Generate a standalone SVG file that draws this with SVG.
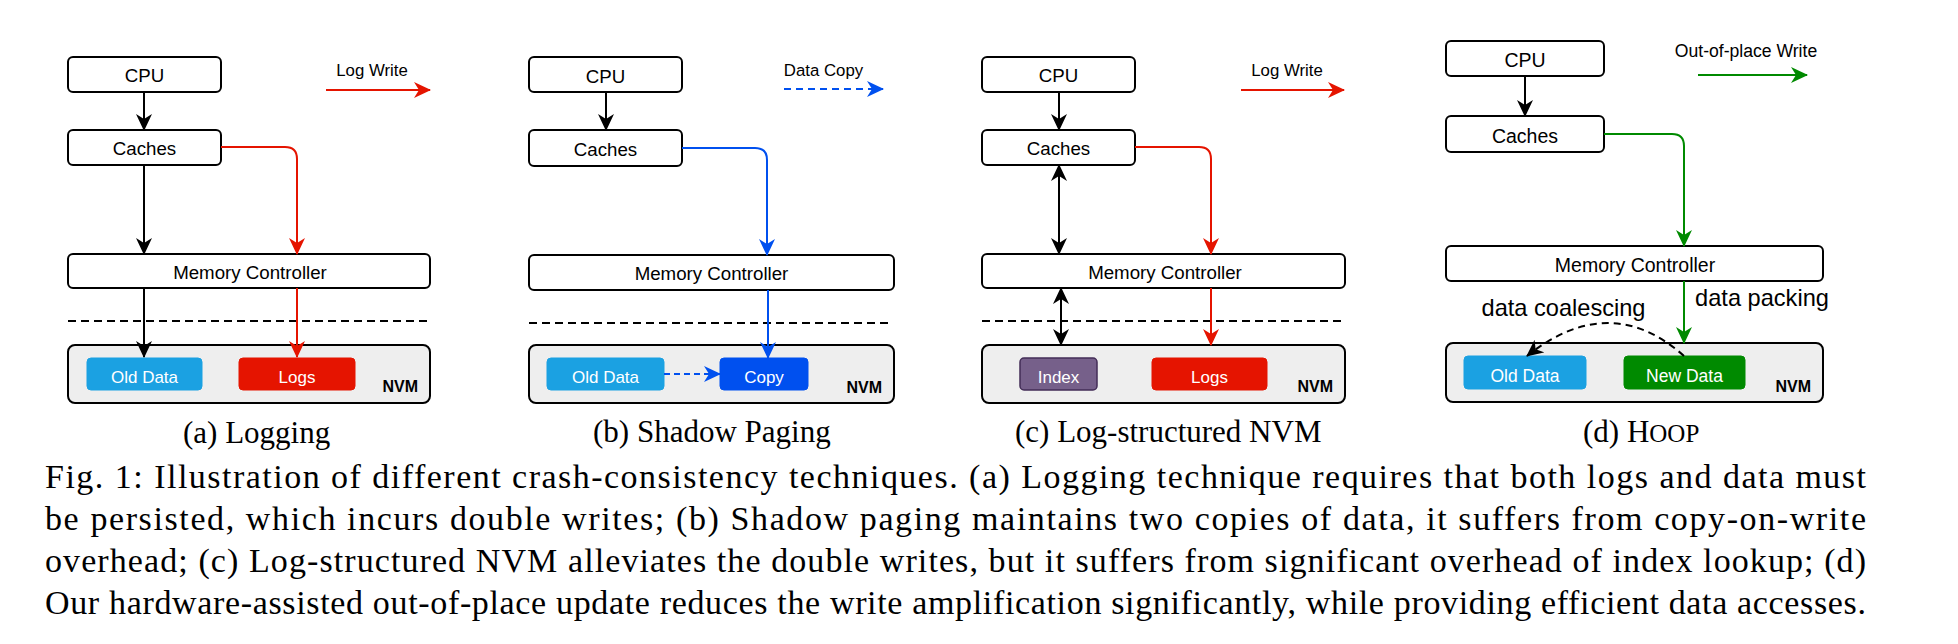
<svg xmlns="http://www.w3.org/2000/svg" width="1958" height="644" viewBox="0 0 1958 644">
<style>
.box{fill:#ffffff;stroke:#000;stroke-width:2}
.nvm{fill:#eeeeee;stroke:#000;stroke-width:2}
.t{font-family:"Liberation Sans",Arial,sans-serif;font-size:18.7px;fill:#000;text-anchor:middle}
.tw{font-family:"Liberation Sans",Arial,sans-serif;font-size:17px;fill:#fff;text-anchor:middle}
.nv{font-family:"Liberation Sans",Arial,sans-serif;font-size:16px;font-weight:bold;fill:#000;text-anchor:end}
.lg{font-family:"Liberation Sans",Arial,sans-serif;font-size:16.8px;fill:#000;text-anchor:middle}
.sub{font-family:"Liberation Serif","Times New Roman",serif;font-size:31px;fill:#000}
.cap{font-family:"Liberation Serif","Times New Roman",serif;font-size:34px;fill:#000}
.k{fill:none;stroke:#000;stroke-width:2}
.r{fill:none;stroke:#e51400;stroke-width:2}
.b{fill:none;stroke:#0050ef;stroke-width:2}
.g{fill:none;stroke:#008a00;stroke-width:2}
.sep{fill:none;stroke:#000;stroke-width:2;stroke-dasharray:8 5}
</style>
<defs>
<marker id="ak" viewBox="0 0 17 16" refX="16" refY="8" markerWidth="17" markerHeight="16" markerUnits="userSpaceOnUse" orient="auto-start-reverse"><path d="M0,0 L17,8 L0,16 L5,8 z" fill="#000"/></marker>
<marker id="ar" viewBox="0 0 17 16" refX="16" refY="8" markerWidth="17" markerHeight="16" markerUnits="userSpaceOnUse" orient="auto"><path d="M0,0 L17,8 L0,16 L5,8 z" fill="#e51400"/></marker>
<marker id="ab" viewBox="0 0 17 16" refX="16" refY="8" markerWidth="17" markerHeight="16" markerUnits="userSpaceOnUse" orient="auto"><path d="M0,0 L17,8 L0,16 L5,8 z" fill="#0050ef"/></marker>
<marker id="ag" viewBox="0 0 17 16" refX="16" refY="8" markerWidth="17" markerHeight="16" markerUnits="userSpaceOnUse" orient="auto"><path d="M0,0 L17,8 L0,16 L5,8 z" fill="#008a00"/></marker>
</defs>

<!-- Panel (a) -->
<g id="a-cpu"><rect class="box" x="68" y="57" width="153" height="35" rx="5"/><text class="t" x="144.5" y="82">CPU</text></g>
<g id="a-caches"><rect class="box" x="68" y="130" width="153" height="35" rx="5"/><text class="t" x="144.5" y="155">Caches</text></g>
<g id="a-mc"><rect class="box" x="68" y="254" width="362" height="34" rx="5"/><text class="t" x="250" y="278.5">Memory Controller</text></g>
<g id="a-nvm"><rect class="nvm" x="68" y="345" width="362" height="58" rx="7"/><text class="nv" x="418" y="392">NVM</text></g>
<g id="a-old"><rect x="87" y="358" width="115" height="32" rx="4" fill="#1ba1e2" stroke="#1ba1e2"/><text class="tw" x="144.5" y="383">Old Data</text></g>
<g id="a-logs"><rect x="239" y="358" width="116" height="32" rx="4" fill="#e51400" stroke="#e51400"/><text class="tw" x="297" y="383">Logs</text></g>
<g id="a-legend"><text class="lg" x="372" y="76">Log Write</text><line class="r" x1="326" y1="90" x2="430" y2="90" marker-end="url(#ar)"/></g>
<g id="a-sep"><line class="sep" x1="68" y1="321" x2="430" y2="321"/></g>
<g id="a-connectors">
<line class="k" x1="144" y1="92" x2="144" y2="130" marker-end="url(#ak)"/>
<line class="k" x1="144" y1="165" x2="144" y2="254" marker-end="url(#ak)"/>
<path class="r" d="M221,147 H285 Q297,147 297,159 V254" marker-end="url(#ar)"/>
<line class="k" x1="144" y1="288" x2="144" y2="357" marker-end="url(#ak)"/>
<line class="r" x1="297" y1="288" x2="297" y2="357" marker-end="url(#ar)"/>
</g>

<!-- Panel (b) -->
<g id="b-cpu"><rect class="box" x="529" y="57" width="153" height="35" rx="5"/><text class="t" x="605.5" y="82.5">CPU</text></g>
<g id="b-caches"><rect class="box" x="529" y="130" width="153" height="36" rx="5"/><text class="t" x="605.5" y="155.5">Caches</text></g>
<g id="b-mc"><rect class="box" x="529" y="255" width="365" height="35" rx="5"/><text class="t" x="711.5" y="280">Memory Controller</text></g>
<g id="b-nvm"><rect class="nvm" x="529" y="345" width="365" height="58" rx="7"/><text class="nv" x="882" y="393">NVM</text></g>
<g id="b-old"><rect x="547" y="358" width="117" height="32" rx="4" fill="#1ba1e2" stroke="#1ba1e2"/><text class="tw" x="605.5" y="383">Old Data</text></g>
<g id="b-copy"><rect x="720" y="358" width="88" height="32" rx="4" fill="#0050ef" stroke="#0050ef"/><text class="tw" x="764" y="383">Copy</text></g>
<g id="b-legend"><text class="lg" x="823.5" y="76">Data Copy</text><line class="b" x1="784" y1="89" x2="883" y2="89" stroke-dasharray="7 5" marker-end="url(#ab)"/></g>
<g id="b-sep"><line class="sep" x1="529" y1="323" x2="892" y2="323"/></g>
<g id="b-connectors">
<line class="k" x1="606" y1="92" x2="606" y2="130" marker-end="url(#ak)"/>
<path class="b" d="M682,148 H755 Q767,148 767,160 V255" marker-end="url(#ab)"/>
<line class="b" x1="768" y1="290" x2="768" y2="358" marker-end="url(#ab)"/>
<line class="b" x1="664" y1="374" x2="720" y2="374" stroke-dasharray="6 4" marker-end="url(#ab)"/>
</g>

<!-- Panel (c) -->
<g id="c-cpu"><rect class="box" x="982" y="57" width="153" height="35" rx="5"/><text class="t" x="1058.5" y="82">CPU</text></g>
<g id="c-caches"><rect class="box" x="982" y="130" width="153" height="35" rx="5"/><text class="t" x="1058.5" y="155">Caches</text></g>
<g id="c-mc"><rect class="box" x="982" y="254" width="363" height="34" rx="5"/><text class="t" x="1165" y="278.5">Memory Controller</text></g>
<g id="c-nvm"><rect class="nvm" x="982" y="345" width="363" height="58" rx="7"/><text class="nv" x="1333" y="392">NVM</text></g>
<g id="c-index"><rect x="1020" y="358" width="77" height="32" rx="4" fill="#76608a" stroke="#432d57" stroke-width="1.5"/><text class="tw" x="1058.5" y="383">Index</text></g>
<g id="c-logs"><rect x="1152" y="358" width="115" height="32" rx="4" fill="#e51400" stroke="#e51400"/><text class="tw" x="1209.5" y="383">Logs</text></g>
<g id="c-legend"><text class="lg" x="1287" y="76">Log Write</text><line class="r" x1="1241" y1="90" x2="1344" y2="90" marker-end="url(#ar)"/></g>
<g id="c-sep"><line class="sep" x1="982" y1="321" x2="1345" y2="321"/></g>
<g id="c-connectors">
<line class="k" x1="1059" y1="92" x2="1059" y2="130" marker-end="url(#ak)"/>
<line class="k" x1="1059" y1="165" x2="1059" y2="254" marker-start="url(#ak)" marker-end="url(#ak)"/>
<path class="r" d="M1135,147 H1199 Q1211,147 1211,159 V254" marker-end="url(#ar)"/>
<line class="k" x1="1061" y1="288" x2="1061" y2="345" marker-start="url(#ak)" marker-end="url(#ak)"/>
<line class="r" x1="1211" y1="288" x2="1211" y2="345" marker-end="url(#ar)"/>
</g>

<!-- Panel (d) -->
<g id="d-cpu"><rect class="box" x="1446" y="41" width="158" height="35" rx="5"/><text class="t" x="1525" y="66.5" style="font-size:19.5px">CPU</text></g>
<g id="d-caches"><rect class="box" x="1446" y="116" width="158" height="36" rx="5"/><text class="t" x="1525" y="142.5" style="font-size:19.5px">Caches</text></g>
<g id="d-mc"><rect class="box" x="1446" y="246" width="377" height="35" rx="5"/><text class="t" x="1635" y="271.5" style="font-size:19.5px">Memory Controller</text></g>
<g id="d-nvm"><rect class="nvm" x="1446" y="343" width="377" height="59" rx="7"/><text class="nv" x="1811" y="392">NVM</text></g>
<g id="d-old"><rect x="1464" y="356" width="122" height="33" rx="4" fill="#1ba1e2" stroke="#1ba1e2"/><text class="tw" x="1525" y="381.5" style="font-size:17.5px">Old Data</text></g>
<g id="d-new"><rect x="1624" y="356" width="121" height="33" rx="4" fill="#008a00" stroke="#008a00"/><text class="tw" x="1684.5" y="381.5" style="font-size:17.5px">New Data</text></g>
<g id="d-legend"><text class="lg" x="1746" y="57" style="font-size:17.6px">Out-of-place Write</text><line class="g" x1="1698" y1="75" x2="1807" y2="75" marker-end="url(#ag)"/></g>
<g id="d-labels">
<text class="t" x="1762" y="306" style="font-size:23.6px">data packing</text>
<text class="t" x="1563.5" y="316" style="font-size:23.6px">data coalescing</text>
</g>
<g id="d-connectors">
<line class="k" x1="1525" y1="76" x2="1525" y2="116" marker-end="url(#ak)"/>
<path class="g" d="M1604,134 H1672 Q1684,134 1684,146 V246" marker-end="url(#ag)"/>
<line class="g" x1="1684" y1="281" x2="1684" y2="343" marker-end="url(#ag)"/>
<path class="k" d="M1684,356 Q1610,290 1527,356" stroke-dasharray="7 5" marker-end="url(#ak)"/>
</g>

<!-- Captions -->
<g id="subcaptions">
<text class="sub" x="183" y="443">(a) Logging</text>
<text class="sub" x="593" y="442">(b) Shadow Paging</text>
<text class="sub" x="1015" y="442">(c) Log-structured NVM</text>
<text class="sub" x="1583" y="442">(d) H<tspan style="font-size:25px">OOP</tspan></text>
</g>
<g id="caption">
<text class="cap" x="45" y="488" textLength="1821" lengthAdjust="spacing">Fig. 1: Illustration of different crash-consistency techniques. (a) Logging technique requires that both logs and data must</text>
<text class="cap" x="45" y="530" textLength="1821" lengthAdjust="spacing">be persisted, which incurs double writes; (b) Shadow paging maintains two copies of data, it suffers from copy-on-write</text>
<text class="cap" x="45" y="572" textLength="1821" lengthAdjust="spacing">overhead; (c) Log-structured NVM alleviates the double writes, but it suffers from significant overhead of index lookup; (d)</text>
<text class="cap" x="45" y="614" textLength="1821" lengthAdjust="spacing">Our hardware-assisted out-of-place update reduces the write amplification significantly, while providing efficient data accesses.</text>
</g>
</svg>
